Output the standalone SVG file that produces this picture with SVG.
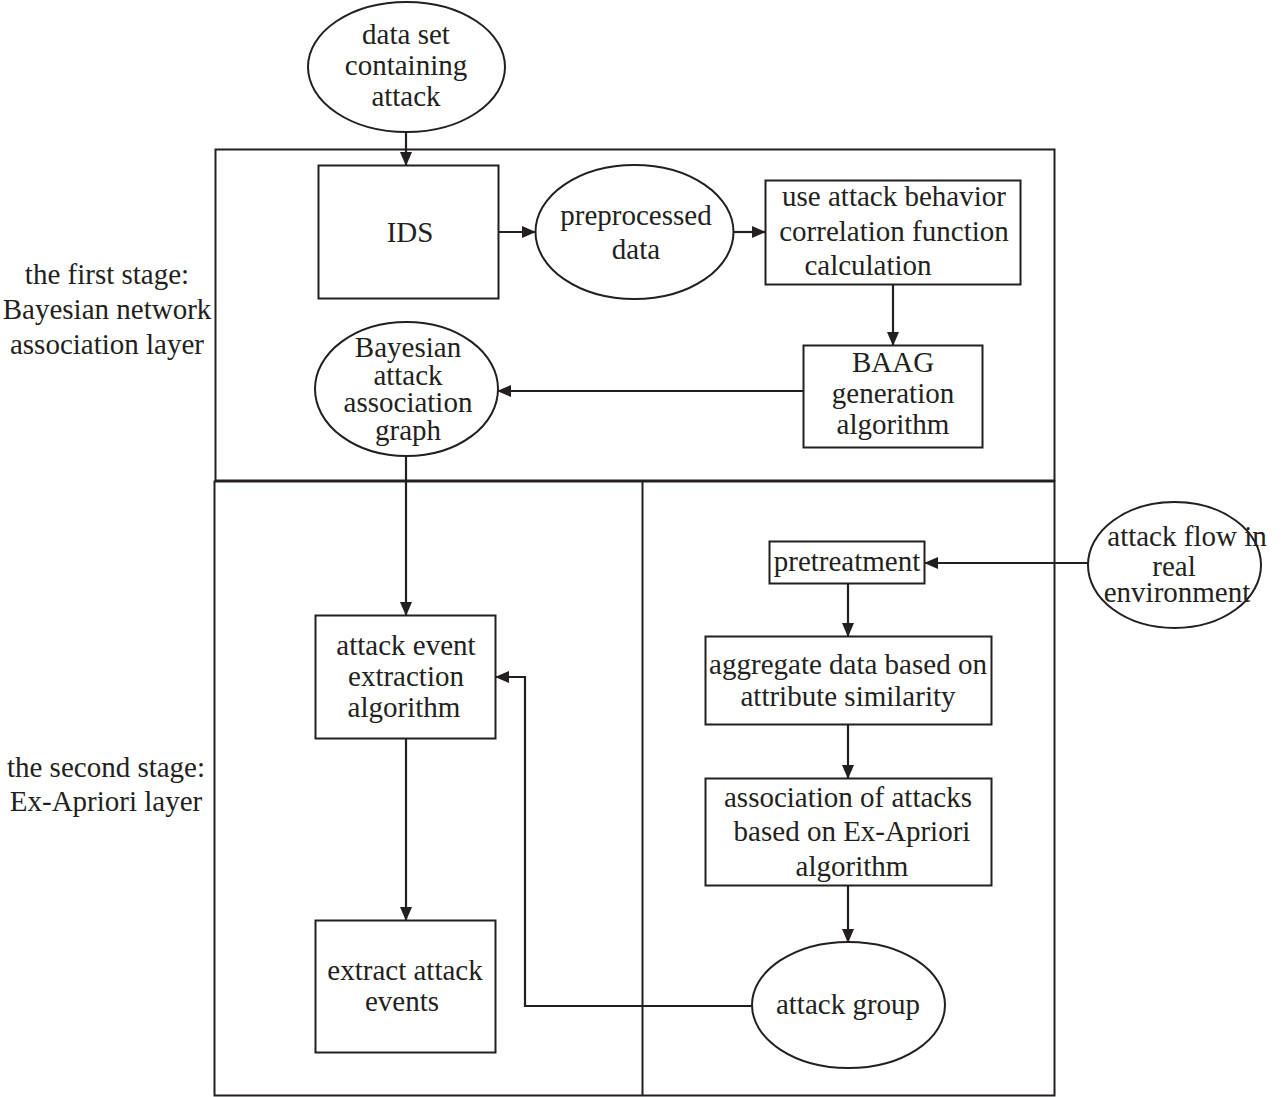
<svg xmlns="http://www.w3.org/2000/svg" width="1287" height="1097" viewBox="0 0 1287 1097">
<defs>
<marker id="ah" markerWidth="14" markerHeight="12" refX="13" refY="6" orient="auto" markerUnits="userSpaceOnUse">
<path d="M0,0 L14,6 L0,12 Z" fill="#231f20"/>
</marker>
<style>
.s{fill:none;stroke:#231f20;stroke-width:2}
.t{font-family:"Liberation Serif","Times New Roman",serif;font-size:29px;fill:#231f20;text-anchor:middle}
.l{fill:none;stroke:#231f20;stroke-width:2.2}
</style>
</defs>
<rect width="1287" height="1097" fill="#fff"/>
<g id="frames">
<rect class="s" x="215.5" y="149.5" width="839" height="331"/>
<rect class="s" x="214.5" y="481.5" width="840" height="614"/>
<line class="s" x1="642.5" y1="481" x2="642.5" y2="1096"/>
</g>
<g id="stage-labels">
<text class="t" x="107" y="284">the first stage:</text>
<text class="t" x="107" y="319">Bayesian network</text>
<text class="t" x="107" y="354">association layer</text>
<text class="t" x="106" y="777">the second stage:</text>
<text class="t" x="106" y="811">Ex-Apriori layer</text>
</g>
<g id="n-dataset">
<ellipse class="s" cx="406.5" cy="67" rx="98.5" ry="65"/>
<text class="t" x="406" y="44">data set</text>
<text class="t" x="406" y="75">containing</text>
<text class="t" x="406" y="106">attack</text>
</g>
<g id="n-ids">
<rect class="s" x="318.5" y="165.5" width="180" height="133"/>
<text class="t" x="410" y="242">IDS</text>
</g>
<g id="n-preprocessed">
<ellipse class="s" cx="634.5" cy="232" rx="99" ry="67"/>
<text class="t" x="636" y="225">preprocessed</text>
<text class="t" x="636" y="259">data</text>
</g>
<g id="n-correlation">
<rect class="s" x="765.5" y="180.5" width="255" height="104"/>
<text class="t" x="894" y="206">use attack behavior</text>
<text class="t" x="894" y="241">correlation function</text>
<text class="t" x="868" y="275">calculation</text>
</g>
<g id="n-baag">
<rect class="s" x="803.5" y="345.5" width="179" height="102"/>
<text class="t" x="893" y="372">BAAG</text>
<text class="t" x="893" y="403">generation</text>
<text class="t" x="893" y="434">algorithm</text>
</g>
<g id="n-bayesian">
<ellipse class="s" cx="406.5" cy="389" rx="91.5" ry="67"/>
<text class="t" x="408" y="357">Bayesian</text>
<text class="t" x="408" y="385">attack</text>
<text class="t" x="408" y="412">association</text>
<text class="t" x="408" y="440">graph</text>
</g>
<g id="n-extraction">
<rect class="s" x="315.5" y="615.5" width="180" height="123"/>
<text class="t" x="406" y="655">attack event</text>
<text class="t" x="406" y="686">extraction</text>
<text class="t" x="404" y="717">algorithm</text>
</g>
<g id="n-extract">
<rect class="s" x="315.5" y="920.5" width="180" height="132"/>
<text class="t" x="405" y="980">extract attack</text>
<text class="t" x="402" y="1011">events</text>
</g>
<g id="n-pretreatment">
<rect class="s" x="769.5" y="541.5" width="155" height="42"/>
<text class="t" x="847" y="571">pretreatment</text>
</g>
<g id="n-attackflow">
<ellipse class="s" cx="1174.5" cy="565" rx="86.5" ry="63"/>
<text class="t" x="1187" y="546">attack flow in</text>
<text class="t" x="1174" y="576">real</text>
<text class="t" x="1177" y="602">environment</text>
</g>
<g id="n-aggregate">
<rect class="s" x="705.5" y="636.5" width="286" height="88"/>
<text class="t" x="848" y="674">aggregate data based on</text>
<text class="t" x="848" y="706">attribute similarity</text>
</g>
<g id="n-association">
<rect class="s" x="705.5" y="778.5" width="286" height="107"/>
<text class="t" x="848" y="807">association of attacks</text>
<text class="t" x="852" y="841">based on Ex-Apriori</text>
<text class="t" x="852" y="876">algorithm</text>
</g>
<g id="n-group">
<ellipse class="s" cx="848.5" cy="1005" rx="96.5" ry="63"/>
<text class="t" x="848" y="1014">attack group</text>
</g>
<g id="connectors">
<line class="l" x1="406" y1="132" x2="406" y2="165" marker-end="url(#ah)"/>
<line class="l" x1="499" y1="232" x2="535" y2="232" marker-end="url(#ah)"/>
<line class="l" x1="734" y1="232" x2="765" y2="232" marker-end="url(#ah)"/>
<line class="l" x1="893" y1="285" x2="893" y2="345" marker-end="url(#ah)"/>
<line class="l" x1="803" y1="391" x2="498" y2="391" marker-end="url(#ah)"/>
<line class="l" x1="406" y1="456" x2="406" y2="615" marker-end="url(#ah)"/>
<line class="l" x1="406" y1="739" x2="406" y2="920" marker-end="url(#ah)"/>
<polyline class="l" points="752,1006 525,1006 525,677 496,677" marker-end="url(#ah)"/>
<line class="l" x1="1088" y1="563" x2="925" y2="563" marker-end="url(#ah)"/>
<line class="l" x1="848" y1="584" x2="848" y2="636" marker-end="url(#ah)"/>
<line class="l" x1="848" y1="725" x2="848" y2="778" marker-end="url(#ah)"/>
<line class="l" x1="848" y1="886" x2="848" y2="942" marker-end="url(#ah)"/>
</g>
</svg>
